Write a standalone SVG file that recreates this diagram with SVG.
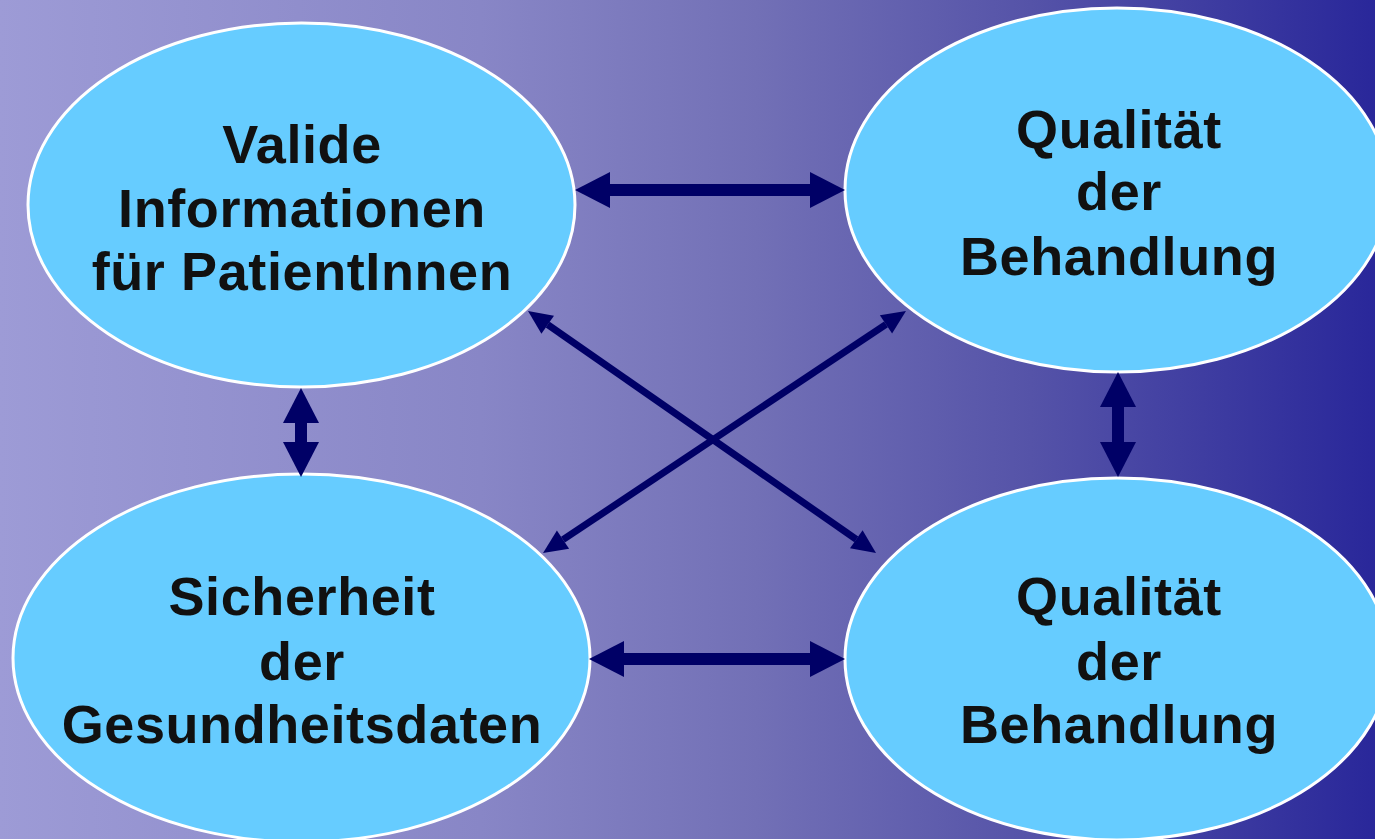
<svg xmlns="http://www.w3.org/2000/svg" width="1375" height="839" viewBox="0 0 1375 839">
  <defs>
    <linearGradient id="bg" x1="0" y1="0" x2="1" y2="0">
      <stop offset="0" stop-color="#9D9BD6"/>
      <stop offset="0.35" stop-color="#8886C6"/>
      <stop offset="0.55" stop-color="#7270B6"/>
      <stop offset="0.75" stop-color="#5553A8"/>
      <stop offset="1" stop-color="#29279A"/>
    </linearGradient>
    <marker id="bigHead" markerUnits="userSpaceOnUse" markerWidth="35" markerHeight="36" refX="0" refY="18" orient="auto-start-reverse" overflow="visible">
      <path d="M0,0 L35,18 L0,36 z" fill="#000066"/>
    </marker>
    <marker id="smallHead" markerUnits="userSpaceOnUse" markerWidth="24" markerHeight="22" refX="0" refY="11" orient="auto-start-reverse" overflow="visible">
      <path d="M0,0 L24,11 L0,22 z" fill="#000066"/>
    </marker>
  </defs>
  <style>
    .node ellipse { fill: #66CCFF; stroke: #FFFFFF; stroke-width: 3; }
    .node text { font-family: "Liberation Sans", Arial, sans-serif; font-weight: bold; font-size: 54px; letter-spacing: 0.6px; fill: #111111; text-anchor: middle; }
    .thick { stroke: #000066; stroke-width: 12; fill: none; marker-start: url(#bigHead); marker-end: url(#bigHead); }
    .thin { stroke: #000066; stroke-width: 7; fill: none; marker-start: url(#smallHead); marker-end: url(#smallHead); }
  </style>
  <rect x="0" y="0" width="1375" height="839" fill="url(#bg)"/>

  <g id="node-valide" class="node">
    <ellipse cx="301.5" cy="205" rx="273.5" ry="182"/>
    <text x="302" y="163">Valide</text>
    <text x="302" y="227">Informationen</text>
    <text x="302" y="290">für PatientInnen</text>
  </g>
  <g id="node-qualitaet-oben" class="node">
    <ellipse cx="1117" cy="190" rx="272" ry="182"/>
    <text x="1119" y="148">Qualität</text>
    <text x="1119" y="210">der</text>
    <text x="1119" y="275">Behandlung</text>
  </g>
  <g id="node-sicherheit" class="node">
    <ellipse cx="301.5" cy="658" rx="288.5" ry="184"/>
    <text x="302" y="615">Sicherheit</text>
    <text x="302" y="680">der</text>
    <text x="302" y="743">Gesundheitsdaten</text>
  </g>
  <g id="node-qualitaet-unten" class="node">
    <ellipse cx="1117" cy="659" rx="272" ry="181"/>
    <text x="1119" y="615">Qualität</text>
    <text x="1119" y="680">der</text>
    <text x="1119" y="743">Behandlung</text>
  </g>

  <g id="connectors">
    <line class="thick" x1="610" y1="190" x2="810" y2="190"/>
    <line class="thick" x1="624" y1="659" x2="810" y2="659"/>
    <line class="thick" x1="301" y1="423" x2="301" y2="442"/>
    <line class="thick" x1="1118" y1="407" x2="1118" y2="442"/>
    <line class="thin" x1="547.7" y1="324.7" x2="856.3" y2="539.3"/>
    <line class="thin" x1="886" y1="324.3" x2="563" y2="539.7"/>
  </g>
</svg>
